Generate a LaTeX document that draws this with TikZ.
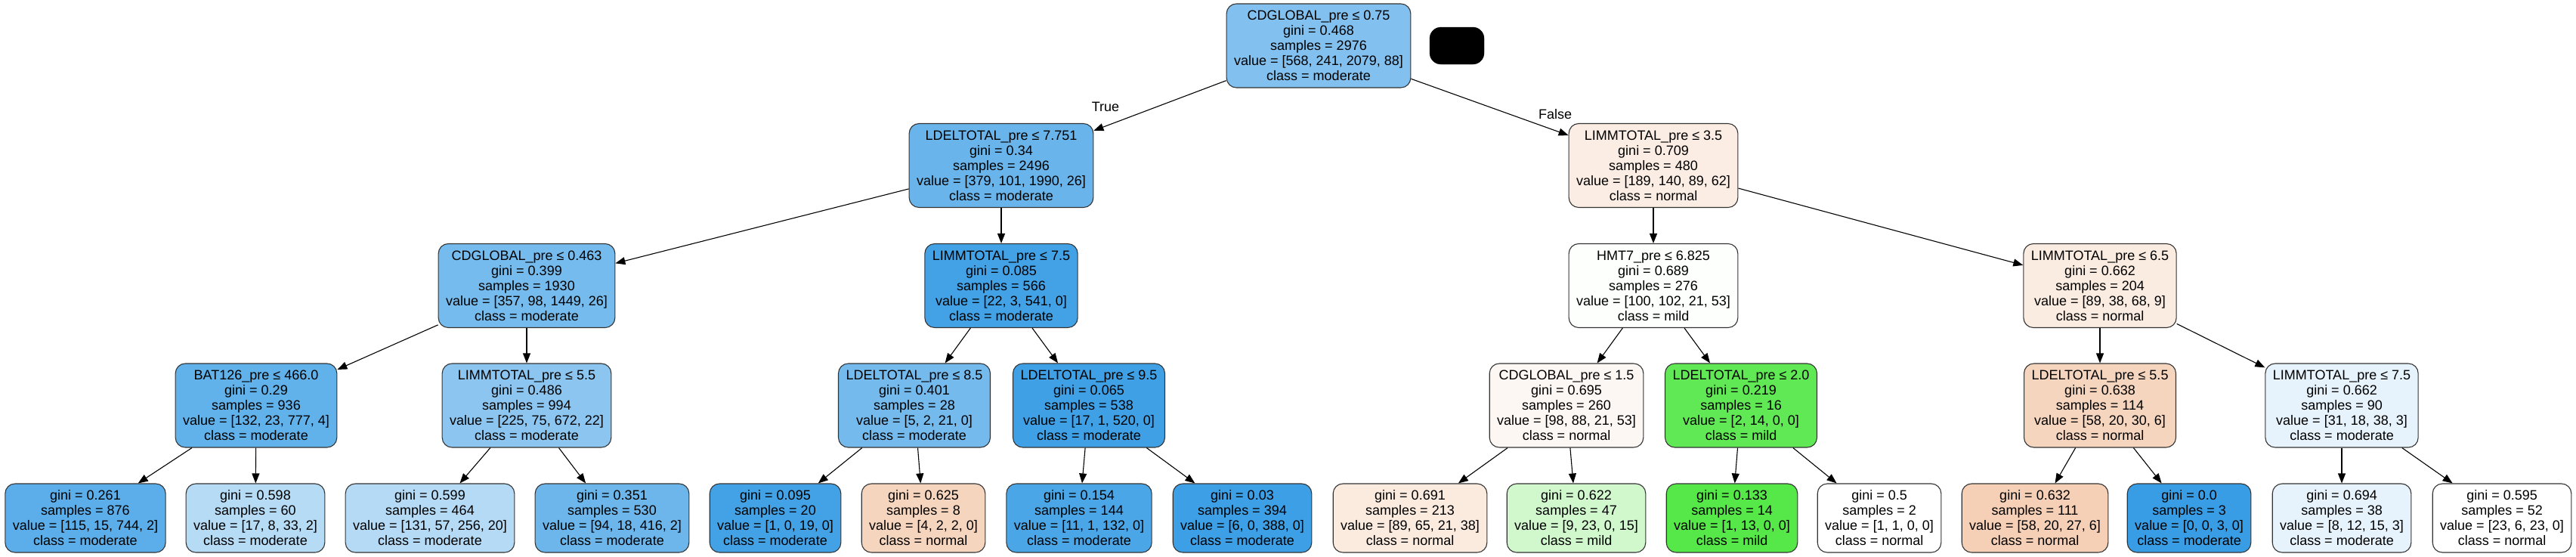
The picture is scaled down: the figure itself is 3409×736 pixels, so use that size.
\documentclass[tikz,border=0pt]{standalone}
\usepackage{fontspec}
\setmainfont{Liberation Sans}
\usepackage{tikz}
\usetikzlibrary{arrows.meta,positioning}
\definecolor{clsnormal}{RGB}{229,129,57}
\definecolor{clsmild}{RGB}{71,229,57}
\definecolor{clsmod}{RGB}{57,157,229}
\tikzset{>={Triangle[length=13pt,width=10pt]}}
\tikzset{
  splitnode/.style={draw=black!80, line width=1.1pt, rounded corners=13pt, align=center,
    inner xsep=10pt, inner ysep=0pt, minimum height=111pt, font=\fontsize{18}{20}\selectfont},
  leafnode/.style={splitnode, minimum height=91pt},
  lbl/.style={font=\fontsize{18}{20}\selectfont, inner sep=0pt},
  branch/.style={->, line width=1.1pt}
}

\begin{document}
\begin{tikzpicture}[x=1pt,y=-1pt]
    \useasboundingbox (0,0) rectangle (3409,736);
    % root
    \node [splitnode, fill=clsmod!63] (root) at (1745,60.5) {CDGLOBAL\_pre ≤ 0.75\\gini = 0.468\\samples = 2976\\value = [568, 241, 2079, 88]\\class = moderate};
    \node [fill=black, draw=black, rounded corners=15pt, minimum width=72pt, minimum height=49pt, inner sep=0pt] (blot) at (1928,60.5) {};
    \node [lbl] (truelbl) at (1463,141) {True};
    \node [lbl] (falselbl) at (2058,151) {False};
    % depth 1
    \node [splitnode, fill=clsmod!76] (s1) at (1325,219) {LDELTOTAL\_pre ≤ 7.751\\gini = 0.34\\samples = 2496\\value = [379, 101, 1990, 26]\\class = moderate};
    \node [splitnode, fill=clsnormal!14] (s2) at (2188,219) {LIMMTOTAL\_pre ≤ 3.5\\gini = 0.709\\samples = 480\\value = [189, 140, 89, 62]\\class = normal};
    % depth 2
    \node [splitnode, fill=clsmod!69] (s3) at (697,378) {CDGLOBAL\_pre ≤ 0.463\\gini = 0.399\\samples = 1930\\value = [357, 98, 1449, 26]\\class = moderate};
    \node [splitnode, fill=clsmod!95] (s4) at (1325,378) {LIMMTOTAL\_pre ≤ 7.5\\gini = 0.085\\samples = 566\\value = [22, 3, 541, 0]\\class = moderate};
    \node [splitnode, fill=clsmild!1] (s5) at (2188,378) {HMT7\_pre ≤ 6.825\\gini = 0.689\\samples = 276\\value = [100, 102, 21, 53]\\class = mild};
    \node [splitnode, fill=clsnormal!15] (s6) at (2779,378) {LIMMTOTAL\_pre ≤ 6.5\\gini = 0.662\\samples = 204\\value = [89, 38, 68, 9]\\class = normal};
    % depth 3
    \node [splitnode, fill=clsmod!80] (s7) at (339,536.5) {BAT126\_pre ≤ 466.0\\gini = 0.29\\samples = 936\\value = [132, 23, 777, 4]\\class = moderate};
    \node [splitnode, fill=clsmod!58] (s8) at (697,536.5) {LIMMTOTAL\_pre ≤ 5.5\\gini = 0.486\\samples = 994\\value = [225, 75, 672, 22]\\class = moderate};
    \node [splitnode, fill=clsmod!70] (s9) at (1210,536.5) {LDELTOTAL\_pre ≤ 8.5\\gini = 0.401\\samples = 28\\value = [5, 2, 21, 0]\\class = moderate};
    \node [splitnode, fill=clsmod!97] (s10) at (1441,536.5) {LDELTOTAL\_pre ≤ 9.5\\gini = 0.065\\samples = 538\\value = [17, 1, 520, 0]\\class = moderate};
    \node [splitnode, fill=clsnormal!6] (s11) at (2073,536.5) {CDGLOBAL\_pre ≤ 1.5\\gini = 0.695\\samples = 260\\value = [98, 88, 21, 53]\\class = normal};
    \node [splitnode, fill=clsmild!86] (s12) at (2304,536.5) {LDELTOTAL\_pre ≤ 2.0\\gini = 0.219\\samples = 16\\value = [2, 14, 0, 0]\\class = mild};
    \node [splitnode, fill=clsnormal!33] (s13) at (2779,536.5) {LDELTOTAL\_pre ≤ 5.5\\gini = 0.638\\samples = 114\\value = [58, 20, 30, 6]\\class = normal};
    \node [splitnode, fill=clsmod!12] (s14) at (3099,536.5) {LIMMTOTAL\_pre ≤ 7.5\\gini = 0.662\\samples = 90\\value = [31, 18, 38, 3]\\class = moderate};
    % leaves
    \node [leafnode, fill=clsmod!83] (leaf1) at (113,685.5) {gini = 0.261\\samples = 876\\value = [115, 15, 744, 2]\\class = moderate};
    \node [leafnode, fill=clsmod!37] (leaf2) at (338,685.5) {gini = 0.598\\samples = 60\\value = [17, 8, 33, 2]\\class = moderate};
    \node [leafnode, fill=clsmod!38] (leaf3) at (569,685.5) {gini = 0.599\\samples = 464\\value = [131, 57, 256, 20]\\class = moderate};
    \node [leafnode, fill=clsmod!74] (leaf4) at (810,685.5) {gini = 0.351\\samples = 530\\value = [94, 18, 416, 2]\\class = moderate};
    \node [leafnode, fill=clsmod!95] (leaf5) at (1026,685.5) {gini = 0.095\\samples = 20\\value = [1, 0, 19, 0]\\class = moderate};
    \node [leafnode, fill=clsnormal!33] (leaf6) at (1222,685.5) {gini = 0.625\\samples = 8\\value = [4, 2, 2, 0]\\class = normal};
    \node [leafnode, fill=clsmod!91] (leaf7) at (1428,685.5) {gini = 0.154\\samples = 144\\value = [11, 1, 132, 0]\\class = moderate};
    \node [leafnode, fill=clsmod!98] (leaf8) at (1644,685.5) {gini = 0.03\\samples = 394\\value = [6, 0, 388, 0]\\class = moderate};
    \node [leafnode, fill=clsnormal!16] (leaf9) at (1866,685.5) {gini = 0.691\\samples = 213\\value = [89, 65, 21, 38]\\class = normal};
    \node [leafnode, fill=clsmild!25] (leaf10) at (2086,685.5) {gini = 0.622\\samples = 47\\value = [9, 23, 0, 15]\\class = mild};
    \node [leafnode, fill=clsmild!92] (leaf11) at (2292,685.5) {gini = 0.133\\samples = 14\\value = [1, 13, 0, 0]\\class = mild};
    \node [leafnode, fill=white] (leaf12) at (2487,685.5) {gini = 0.5\\samples = 2\\value = [1, 1, 0, 0]\\class = normal};
    \node [leafnode, fill=clsnormal!37] (leaf13) at (2693,685.5) {gini = 0.632\\samples = 111\\value = [58, 20, 27, 6]\\class = normal};
    \node [leafnode, fill=clsmod] (leaf14) at (2897,685.5) {gini = 0.0\\samples = 3\\value = [0, 0, 3, 0]\\class = moderate};
    \node [leafnode, fill=clsmod!12] (leaf15) at (3099,685.5) {gini = 0.694\\samples = 38\\value = [8, 12, 15, 3]\\class = moderate};
    \node [leafnode, fill=white] (leaf16) at (3311,685.5) {gini = 0.595\\samples = 52\\value = [23, 6, 23, 0]\\class = normal};
    % connectors
    \draw [branch] (root) -- (s1);
    \draw [branch] (root) -- (s2);
    \draw [branch] (s1) -- (s3);
    \draw [branch] (s1) -- (s4);
    \draw [branch] (s2) -- (s5);
    \draw [branch] (s2) -- (s6);
    \draw [branch] (s3) -- (s7);
    \draw [branch] (s3) -- (s8);
    \draw [branch] (s4) -- (s9);
    \draw [branch] (s4) -- (s10);
    \draw [branch] (s5) -- (s11);
    \draw [branch] (s5) -- (s12);
    \draw [branch] (s6) -- (s13);
    \draw [branch] (s6) -- (s14);
    \draw [branch] (s7) -- (leaf1);
    \draw [branch] (s7) -- (leaf2);
    \draw [branch] (s8) -- (leaf3);
    \draw [branch] (s8) -- (leaf4);
    \draw [branch] (s9) -- (leaf5);
    \draw [branch] (s9) -- (leaf6);
    \draw [branch] (s10) -- (leaf7);
    \draw [branch] (s10) -- (leaf8);
    \draw [branch] (s11) -- (leaf9);
    \draw [branch] (s11) -- (leaf10);
    \draw [branch] (s12) -- (leaf11);
    \draw [branch] (s12) -- (leaf12);
    \draw [branch] (s13) -- (leaf13);
    \draw [branch] (s13) -- (leaf14);
    \draw [branch] (s14) -- (leaf15);
    \draw [branch] (s14) -- (leaf16);
\end{tikzpicture}
\end{document}
